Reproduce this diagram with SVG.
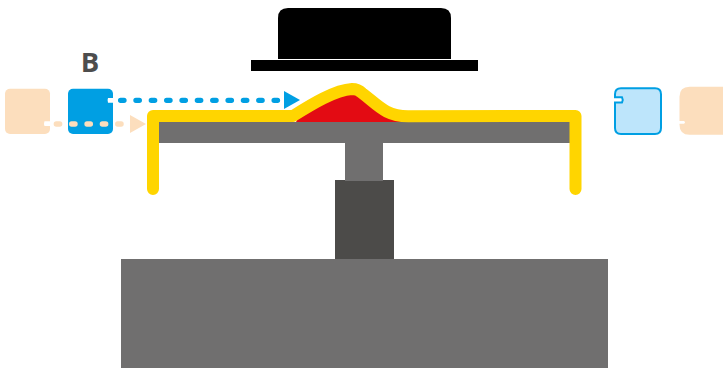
<svg xmlns="http://www.w3.org/2000/svg" width="723" height="370" viewBox="0 0 723 370">
<style>
.grey{fill:#706f6f}
.peach{fill:#fcdebd}
.dot{fill:none;stroke-width:5.300;stroke-linecap:round;stroke-dasharray:3.400 11.950}
</style>
<rect width="723" height="370" fill="#fff"/>
<g id="press">
<path d="M278 59V18Q278 8 288 8H441Q451 8 451 18V59Z" fill="#000"/>
<rect x="251" y="60" width="227" height="11" fill="#000"/>
</g>
<g id="machine">
<rect class="grey" x="121" y="259" width="487" height="109"/>
<rect x="335" y="180" width="59" height="79" fill="#4c4b49"/>
<rect class="grey" x="345" y="143" width="38" height="38"/>
<rect class="grey" x="159" y="122" width="411" height="21"/>
</g>
<g id="resin">
<path d="M296 122L300 114L352 90L362 93L405 118V122Z" fill="#e30b13"/>
</g>
<g id="film">
<path d="M153 189V116H293C312 104 335 90 352 89Q358 89 362 93C378 105 385 116 408 116.300L575.500 116V189" fill="none" stroke="#ffd500" stroke-width="12" stroke-linecap="round" stroke-linejoin="round"/>
</g>
<g id="label-b">
<text x="90" y="72.300" text-anchor="middle" font-family="'Open Sans','Noto Sans',sans-serif" font-weight="700" font-size="27.500" fill="#4d4d4d">B</text>
</g>
<g id="source-left">
<rect class="peach" x="5" y="88.700" width="45" height="45.300" rx="5"/>
</g>
<g id="source-blue">
<rect x="68" y="88.700" width="45" height="45.300" rx="5" fill="#009fe3"/>
</g>
<g id="target-blue">
<path d="M621 88.300H655Q661 88.300 661 94.300V128Q661 134 655 134H621Q615 134 615 128V102.500H622Q623.500 100 622 97.300H615V94.300Q615 88.300 621 88.300Z" fill="#bde5fb" stroke="#009fe3" stroke-width="2"/>
</g>
<g id="target-peach">
<path class="peach" d="M689.500 86.700H723V134.700H689.500Q679.500 134.700 679.500 124.700V96.700Q679.500 86.700 689.500 86.700Z"/>
<path d="M678 121H684Q686 122.300 684 123.700H678Z" fill="#fff"/>
</g>
<g id="connectors">
<path d="M108 98H113.500V102.700H108Q107 100.300 108 98Z" fill="#fff"/>
<path d="M44.500 121.300H50.500V126H44.500Q43.500 123.700 44.500 121.300Z" fill="#fff"/>
<path class="dot" style="stroke:#009fe3" d="M120.600 100.300H284"/>
<path d="M284 91V109L300 100Z" fill="#009fe3"/>
<path class="dot" style="stroke:#fcdebd" d="M56.300 124H125"/>
<path class="peach" d="M130 115V133L146 124Z"/>
</g>
</svg>
